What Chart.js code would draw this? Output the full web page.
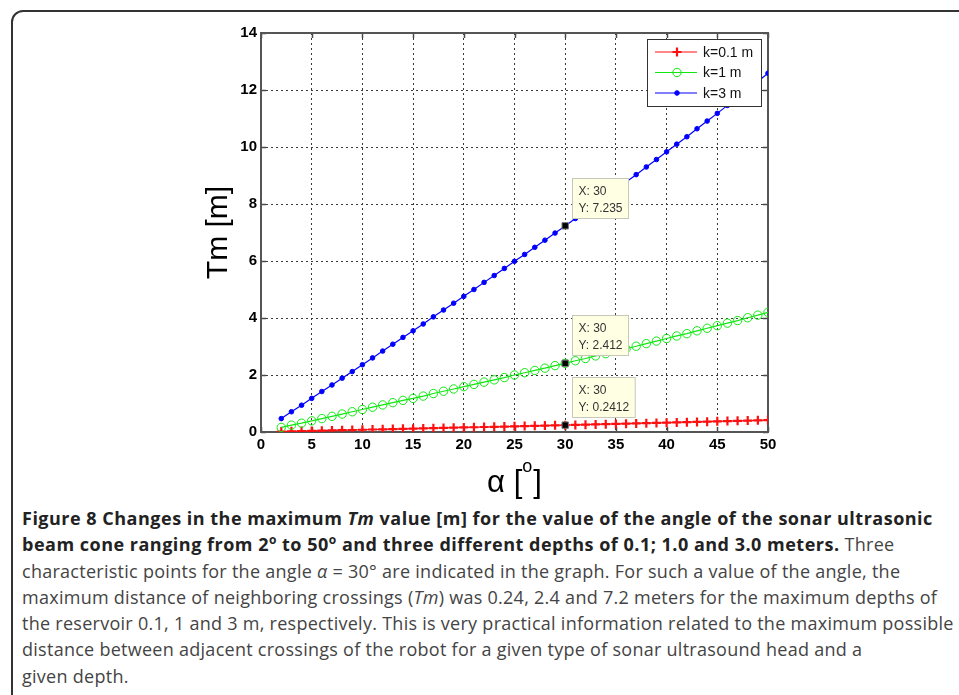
<!DOCTYPE html>
<html>
<head>
<meta charset="utf-8">
<script src="https://cdn.jsdelivr.net/npm/chart.js@4"></script>
<style>
  body { margin: 0; background: #fff; width: 959px; height: 695px; overflow: hidden; position: relative; }
  #frame { position: absolute; left: 11px; top: 10px; width: 1000px; height: 800px; border: 2px solid #333; border-radius: 12px 0 0 0; box-sizing: border-box; }
  #chartBox { position: absolute; left: 0; top: 0; width: 959px; height: 500px; }
  #caption { position: absolute; left: 22px; top: 505px; font-family: "Open Sans", sans-serif; font-size: 18px; letter-spacing: 0.27px; line-height: 26.3px; color: #444; white-space: nowrap; }
  #caption b { color: #222; letter-spacing: 0.5px; }
  #caption sup { font-size: 12px; line-height: 0; }
</style>
</head>
<body>
<div id="frame"></div>
<div id="chartBox"><canvas id="tmChart"></canvas></div>
<div id="caption">
<b>Figure 8 Changes in the maximum <i>Tm</i> value [m] for the value of the angle of the sonar ultrasonic</b><br>
<b>beam cone ranging from 2<sup>o</sup> to 50<sup>o</sup> and three different depths of 0.1; 1.0 and 3.0 meters.</b> Three<br>
characteristic points for the angle <i>α</i> = 30° are indicated in the graph. For such a value of the angle, the<br>
maximum distance of neighboring crossings (<i>Tm</i>) was 0.24, 2.4 and 7.2 meters for the maximum depths of<br>
the reservoir 0.1, 1 and 3 m, respectively. This is very practical information related to the maximum possible<br>
distance between adjacent crossings of the robot for a given type of sonar ultrasound head and a<br>
given depth.
</div>
<script>
// beam angle alpha [deg]
const angles = [2, 3, 4, 5, 6, 7, 8, 9, 10, 11, 12, 13, 14, 15, 16, 17, 18, 19, 20, 21, 22, 23, 24, 25, 26,
  27, 28, 29, 30, 31, 32, 33, 34, 35, 36, 37, 38, 39, 40, 41, 42, 43, 44, 45, 46, 47, 48, 49, 50];

// Tm [m] for each depth
const tmK01 = [0.016, 0.024, 0.031, 0.039, 0.047, 0.055, 0.063, 0.071, 0.079, 0.087, 0.095, 0.103, 0.111, 0.118,
  0.126, 0.135, 0.143, 0.151, 0.159, 0.167, 0.175, 0.183, 0.191, 0.200, 0.208, 0.216, 0.224, 0.233, 0.241, 0.250,
  0.258, 0.267, 0.275, 0.284, 0.292, 0.301, 0.310, 0.319, 0.328, 0.337, 0.345, 0.355, 0.364, 0.373, 0.382, 0.391,
  0.401, 0.410, 0.420];
const tmK1 = [0.16, 0.24, 0.31, 0.39, 0.47, 0.55, 0.63, 0.71, 0.79, 0.87, 0.95, 1.03, 1.11, 1.18, 1.26, 1.35,
  1.43, 1.51, 1.59, 1.67, 1.75, 1.83, 1.91, 2.00, 2.08, 2.16, 2.24, 2.33, 2.41, 2.50, 2.58, 2.67, 2.75, 2.84,
  2.92, 3.01, 3.10, 3.19, 3.28, 3.37, 3.45, 3.55, 3.64, 3.73, 3.82, 3.91, 4.01, 4.10, 4.20];
const tmK3 = [0.47, 0.71, 0.94, 1.18, 1.42, 1.65, 1.89, 2.12, 2.36, 2.60, 2.84, 3.08, 3.32, 3.55, 3.79, 4.04,
  4.28, 4.52, 4.76, 5.00, 5.25, 5.49, 5.74, 5.99, 6.23, 6.48, 6.73, 6.98, 7.23, 7.49, 7.74, 8.00, 8.25, 8.51,
  8.77, 9.03, 9.30, 9.56, 9.83, 10.10, 10.36, 10.64, 10.91, 11.18, 11.46, 11.74, 12.02, 12.30, 12.59];

const seriesLabels = ['k=0.1 m', 'k=1 m', 'k=3 m'];
const xTicks = [0, 5, 10, 15, 20, 25, 30, 35, 40, 45, 50];
const yTicks = [0, 2, 4, 6, 8, 10, 12, 14];

// data tips at alpha = 30
const tipAngle = 30;
const tipValues = [0.2412, 2.412, 7.235];
const tipTexts = ['0.2412', '2.412', '7.235'];

const FONT = '"Liberation Sans", Arial, sans-serif';

function toPoints(values) {
  return angles.map((a, i) => ({ x: a, y: values[i] }));
}

const seriesStyles = [
  { color: '#ff1010', pointStyle: 'cross', radius: 4.5, fill: '#ff1010', borderWidth: 2.2 },
  { color: '#10e810', pointStyle: 'circle', radius: 4.2, fill: 'rgba(0,0,0,0)', borderWidth: 1 },
  { color: '#0000ff', pointStyle: 'circle', radius: 2.3, fill: '#0000ff', borderWidth: 1 }
];

function line(ctx, x1, y1, x2, y2) {
  ctx.beginPath();
  ctx.moveTo(x1, y1);
  ctx.lineTo(x2, y2);
  ctx.stroke();
}

const matlabLook = {
  id: 'matlabLook',
  beforeDatasetsDraw(chart) {
    const { ctx, chartArea: a, scales: { x, y } } = chart;
    ctx.save();
    ctx.strokeStyle = '#4a4a4a';
    ctx.lineWidth = 1.5;
    xTicks.forEach(v => {
      const px = Math.round(x.getPixelForValue(v)) + 0.5;
      line(ctx, px, a.bottom, px, a.bottom - 5);
      line(ctx, px, a.top, px, a.top + 5);
    });
    yTicks.forEach(v => {
      const py = Math.round(y.getPixelForValue(v)) + 0.5;
      line(ctx, a.left, py, a.left + 5, py);
      line(ctx, a.right, py, a.right - 5, py);
    });
    ctx.lineWidth = 2;
    ctx.strokeStyle = '#555';
    ctx.strokeRect(a.left, a.top, a.right - a.left, a.bottom - a.top);
    ctx.restore();
  },
  afterDatasetsDraw(chart) {
    const { ctx, chartArea: a, scales: { x, y } } = chart;
    ctx.save();

    // data tips
    ctx.font = '12px ' + FONT;
    tipValues.forEach((v, i) => {
      const px = x.getPixelForValue(tipAngle);
      const py = y.getPixelForValue(v);
      const label = 'Y: ' + tipTexts[i];
      const w = Math.max(ctx.measureText('X: 30').width, ctx.measureText(label).width) + 12;
      const h = 40;
      const bx = Math.round(px + 7) + 0.5;
      const by = Math.round(py - 8 - h) + 0.5;
      ctx.fillStyle = '#ffffe4';
      ctx.fillRect(bx, by, w, h);
      ctx.strokeStyle = '#c8c8b8';
      ctx.lineWidth = 1;
      ctx.strokeRect(bx, by, w, h);
      ctx.fillStyle = '#333';
      ctx.textAlign = 'left';
      ctx.textBaseline = 'alphabetic';
      ctx.fillText('X: 30', bx + 6, by + 16);
      ctx.fillText(label, bx + 6, by + 33);
    });

    // legend
    const lx = a.right - 121, ly = a.top + 6, lw = 114, lh = 67;
    ctx.fillStyle = '#fff';
    ctx.fillRect(lx, ly, lw, lh);
    ctx.strokeStyle = '#333';
    ctx.lineWidth = 1;
    ctx.strokeRect(lx + 0.5, ly + 0.5, lw, lh);
    ctx.font = '14px ' + FONT;
    ctx.textBaseline = 'middle';
    seriesLabels.forEach((lab, i) => {
      const s = seriesStyles[i];
      const cy = ly + 13 + i * 20.5;
      ctx.strokeStyle = s.color;
      ctx.lineWidth = 1.2;
      line(ctx, lx + 8, cy, lx + 50, cy);
      ctx.fillStyle = s.fill;
      ctx.lineWidth = s.borderWidth;
      Chart.helpers.drawPoint(ctx, { pointStyle: s.pointStyle, rotation: 0, radius: s.radius, borderWidth: s.borderWidth }, lx + 30, cy);
      ctx.fillStyle = '#111';
      ctx.fillText(lab, lx + 56, cy + 1);
    });
    ctx.restore();
  },
  afterDraw(chart) {
    // x axis title: alpha [o] with superscript o
    const { ctx, chartArea: a } = chart;
    ctx.save();
    ctx.fillStyle = '#000';
    ctx.textBaseline = 'alphabetic';
    ctx.textAlign = 'left';
    const base = 492;
    const big = '31px ' + FONT, small = '18px ' + FONT;
    ctx.font = big;
    const w1 = ctx.measureText('α [').width;
    const w3 = ctx.measureText(']').width;
    ctx.font = small;
    const w2 = ctx.measureText('o').width + 1;
    let sx = (a.left + a.right) / 2 - (w1 + w2 + w3) / 2;
    ctx.font = big;
    ctx.fillText('α [', sx, base);
    ctx.font = small;
    ctx.fillText('o', sx + w1, base - 20);
    ctx.font = big;
    ctx.fillText(']', sx + w1 + w2, base);
    ctx.restore();
  }
};

const datasets = seriesLabels.map((lab, i) => ({
  label: lab,
  data: toPoints([tmK01, tmK1, tmK3][i]),
  borderColor: seriesStyles[i].color,
  backgroundColor: seriesStyles[i].fill,
  borderWidth: 1.2,
  pointStyle: seriesStyles[i].pointStyle,
  pointRadius: seriesStyles[i].radius,
  pointBorderWidth: seriesStyles[i].borderWidth,
  pointBorderColor: seriesStyles[i].color,
  pointBackgroundColor: seriesStyles[i].fill,
  tension: 0,
  order: 3 - i
}));

datasets.push({
  label: 'data tips',
  data: tipValues.map(v => ({ x: tipAngle, y: v })),
  showLine: false,
  pointStyle: 'rect',
  pointRadius: 4.5,
  pointBackgroundColor: '#000',
  pointBorderColor: '#777',
  pointBorderWidth: 1,
  order: -1
});

new Chart(document.getElementById('tmChart'), {
  type: 'line',
  data: { datasets },
  options: {
    responsive: true,
    maintainAspectRatio: false,
    animation: false,
    events: [],
    layout: { padding: { left: 197, top: 33, right: 191, bottom: 0 } },
    plugins: { legend: { display: false }, tooltip: { enabled: false } },
    scales: {
      x: {
        type: 'linear',
        min: 0,
        max: 50,
        afterFit: s => { s.height = 68; },
        afterBuildTicks: s => { s.ticks = xTicks.map(v => ({ value: v })); },
        ticks: { color: '#000', padding: 4, font: { family: FONT, size: 15, weight: 'bold' } },
        grid: { color: '#3a3a3a', lineWidth: 1, drawTicks: false },
        border: { display: false, dash: [2, 3] }
      },
      y: {
        type: 'linear',
        min: 0,
        max: 14,
        afterFit: s => { s.width = 64; },
        afterBuildTicks: s => { s.ticks = yTicks.map(v => ({ value: v })); },
        ticks: { color: '#000', padding: 4, font: { family: FONT, size: 15, weight: 'bold' } },
        grid: { color: '#3a3a3a', lineWidth: 1, drawTicks: false },
        border: { display: false, dash: [2, 3] },
        title: { display: true, text: 'Tm [m]', color: '#000', padding: { top: 4, bottom: 0 }, font: { family: FONT, size: 30, weight: 'normal' } }
      }
    }
  },
  plugins: [matlabLook]
});
</script>
</body>
</html>
